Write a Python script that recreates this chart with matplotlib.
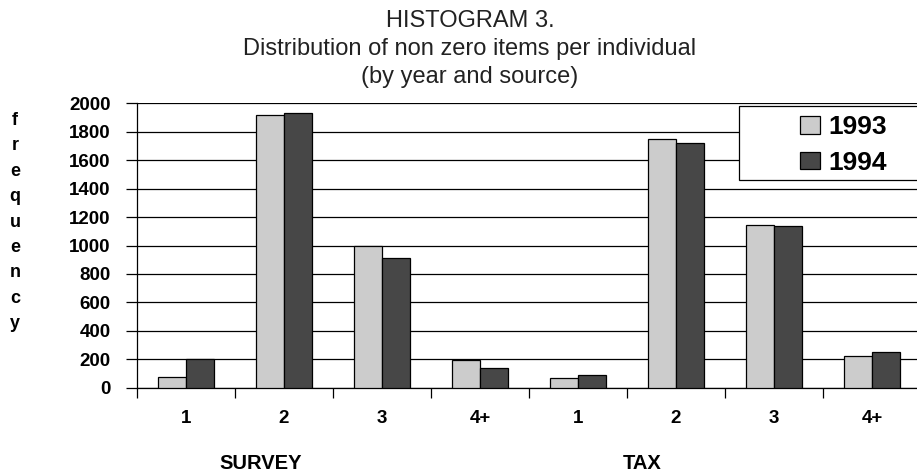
import matplotlib.pyplot as plt
from matplotlib.patches import Patch, Rectangle

plt.rcParams['font.family'] = ['Liberation Sans', 'DejaVu Sans']

groups = ["1", "2", "3", "4+", "1", "2", "3", "4+"]
sources = ["SURVEY", "TAX"]
freq_1993 = [75, 1918, 996, 195, 70, 1749, 1141, 223]
freq_1994 = [200, 1934, 911, 137, 87, 1721, 1134, 249]
title_lines = ["HISTOGRAM 3.",
               "Distribution of non zero items per individual",
               "(by year and source)"]

light = "#cccccc"
dark = "#474747"

W, H = 917, 476
fig = plt.figure(figsize=(W / 100, H / 100), dpi=100)
ax = fig.add_axes([137 / W, 1 - 387.7 / H, 784 / W, 284.4 / H])

x = [i + 0.5 for i in range(len(groups))]
w = 0.285
ax.bar([v - w / 2 for v in x], freq_1993, width=w, color=light,
       edgecolor="black", linewidth=0.9, zorder=3)
ax.bar([v + w / 2 for v in x], freq_1994, width=w, color=dark,
       edgecolor="black", linewidth=0.9, zorder=3)

ax.set_xlim(0, len(groups))
ax.set_ylim(0, 2000)
ax.set_yticks(range(0, 2001, 200))
ax.yaxis.grid(True, color="black", linewidth=0.9, zorder=0)
ax.set_axisbelow(True)

ax.set_xticks(x)
ax.set_xticklabels(groups, fontsize=13.5, fontweight="bold")
ax.set_xticks(range(len(groups) + 1), minor=True)
ax.tick_params(axis="x", which="major", length=0, pad=16)
ax.tick_params(axis="x", which="minor", length=7, direction="out", width=0.9)
ax.tick_params(axis="y", length=8, width=0.9, pad=11, labelsize=13.5)
for lab in ax.get_yticklabels():
    lab.set_fontweight("bold")

for s in ["top", "right"]:
    ax.spines[s].set_visible(False)
for s in ["left", "bottom"]:
    ax.spines[s].set_linewidth(0.9)

# title, one text per line
for line, base in zip(title_lines, [26.7, 54.5, 82.5]):
    fig.text(470 / W, 1 - base / H, line, ha="center", va="baseline",
             fontsize=17, color="#222222")

# vertical "frequency" label, letter by letter
for i, ch in enumerate("frequency"):
    fig.text(15 / W, 1 - (125 + i * 25.4) / H, ch, ha="center",
             va="baseline", fontsize=13, fontweight="bold")

fig.text(261 / W, 1 - 469 / H, sources[0], ha="center", va="baseline",
         fontsize=14.5, fontweight="bold")
fig.text(642 / W, 1 - 469 / H, sources[1], ha="center", va="baseline",
         fontsize=14.5, fontweight="bold")

# legend box drawn separately so it can run off the right edge
fig.patches.append(Rectangle((739 / W, 1 - 180.3 / H), 200 / W, 74.6 / H,
                             transform=fig.transFigure, facecolor="white",
                             edgecolor="black", linewidth=0.9, zorder=5))
handles = [Patch(facecolor=light, edgecolor="black", linewidth=0.9),
           Patch(facecolor=dark, edgecolor="black", linewidth=0.9)]
leg = fig.legend(handles, ["1993", "1994"], loc="center left",
                 bbox_to_anchor=(787 / W, 1 - 145 / H), frameon=False,
                 prop={"size": 19, "weight": "bold"}, handlelength=0.76,
                 handleheight=0.64, handletextpad=0.3, labelspacing=0.45,
                 borderpad=0)
leg.set_zorder(6)

fig.savefig("out.png", dpi=100)
